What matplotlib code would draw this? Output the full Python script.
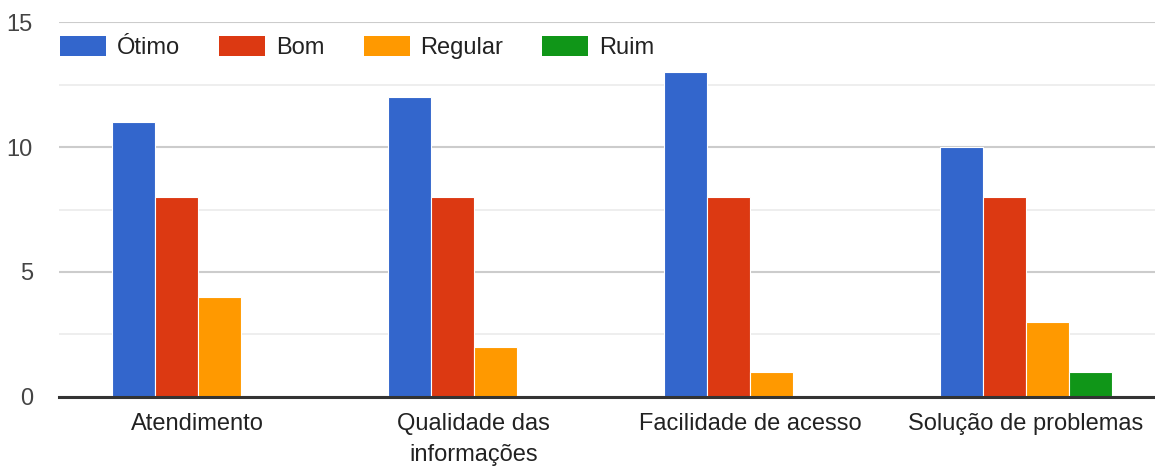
import matplotlib
matplotlib.use("Agg")
import matplotlib.pyplot as plt
import numpy as np
from matplotlib.patches import Patch

categories = ["Atendimento", "Qualidade das\ninformações", "Facilidade de acesso", "Solução de problemas"]
series_names = ["Ótimo", "Bom", "Regular", "Ruim"]
otimo = [11, 12, 13, 10]
bom = [8, 8, 8, 8]
regular = [4, 2, 1, 3]
ruim = [0, 0, 0, 1]
colors = ["#3366cc", "#dc3912", "#ff9900", "#109618"]

plt.rcParams['font.family'] = ['Liberation Sans', 'DejaVu Sans']
FS = 17.0
W, H = 1155, 468
fig = plt.figure(figsize=(W/100, H/100), dpi=100)
ax = fig.add_axes([59/W, (H-396.7)/H, (W-59)/W, 374.4/H])

x = np.arange(len(categories))
bw = 0.156
series = [otimo, bom, regular, ruim]
for i, (vals, c) in enumerate(zip(series, colors)):
    ax.bar(x + (i-1.5)*bw, vals, width=bw, color=c, edgecolor='white', linewidth=0.8, zorder=3)

ax.set_xlim(-0.503, -0.503 + (W-59)/276)
ax.set_ylim(0, 15)
ax.set_yticks([0, 5, 10, 15])
ax.set_yticks([2.5, 7.5, 12.5], minor=True)
ax.grid(axis='y', which='major', color='#cccccc', linewidth=1.5, zorder=0)
ax.grid(axis='y', which='minor', color='#ebebeb', linewidth=1.2, zorder=0)
ax.tick_params(axis='y', which='both', length=0, pad=26*0.72, labelsize=FS, labelcolor='#444444')
ax.set_xticks(x)
ax.set_xticklabels(categories, fontsize=FS, color='#222222', linespacing=1.5)
ax.tick_params(axis='x', length=0, pad=12)
for s in ['top', 'right', 'left']:
    ax.spines[s].set_visible(False)
ax.spines['bottom'].set_color('#333333')
ax.spines['bottom'].set_linewidth(2.2)
ax.spines['bottom'].set_zorder(4)

fpx = FS/0.72
handles = [Patch(facecolor=c, edgecolor='none') for c in colors]
leg = fig.legend(handles, series_names, loc='upper left', bbox_to_anchor=(60/W, 1-36/H), ncol=4,
                 frameon=False, fontsize=FS, handlelength=46/fpx, handleheight=22/fpx,
                 handletextpad=11/fpx, columnspacing=39/fpx, borderpad=0, borderaxespad=0)
for t in leg.get_texts():
    t.set_color('#222222')

fig.savefig('out.png', dpi=100, facecolor='white')
